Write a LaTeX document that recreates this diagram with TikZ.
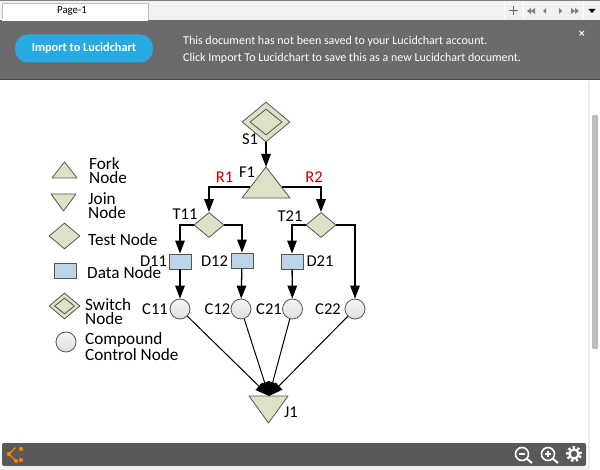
\documentclass[tikz,border=0pt]{standalone}
\usepackage{fontspec}
\setmainfont{Carlito}
\usepackage{tikz}
\usetikzlibrary{shapes.geometric, arrows.meta, positioning, calc}
\definecolor{nodegreen}{HTML}{DDE1C8}
\definecolor{nodeline}{HTML}{55584A}
\definecolor{databox}{HTML}{BDD3E8}
\definecolor{bannergray}{HTML}{6B6B6B}
\definecolor{barblack}{HTML}{595959}
\definecolor{tabgray}{HTML}{F1F1F1}
\definecolor{btnblue}{HTML}{27AAE1}
\definecolor{redlabel}{HTML}{C00000}
\definecolor{thumbgray}{HTML}{BDBDBD}
\tikzset{
    lbl/.style={inner sep=0pt, font=\fontsize{16.5}{14}\selectfont},
    leg/.style={inner sep=0pt, font=\fontsize{17.2}{14}\selectfont, align=left, anchor=west},
    testnode/.style={diamond, draw=nodeline, fill=nodegreen, line width=0.8pt, inner sep=0pt, aspect=1.2, minimum width=30pt, minimum height=25pt},
    switchout/.style={testnode, minimum width=48pt, minimum height=40pt},
    switchin/.style={testnode, minimum width=32pt, minimum height=26pt},
    forknode/.style={draw=nodeline, fill=nodegreen, line width=0.8pt, line join=round},
    datanode/.style={rectangle, draw=nodeline, fill=databox, line width=0.8pt, inner sep=0pt, minimum width=22pt, minimum height=15pt},
    ctrlnode/.style={circle, draw=nodeline, top color=gray!8, bottom color=gray!25, line width=0.8pt, inner sep=0pt, minimum size=20pt},
    flow/.style={-{Triangle[length=13pt, width=9.5pt]}, line width=1.3pt, black},
    joinflow/.style={-{Triangle[length=14pt, width=10pt]}, line width=1pt, black},
    barlbl/.style={inner sep=0pt, text=white, font=\fontsize{12}{12}\selectfont, anchor=west},
}
\begin{document}
\begin{tikzpicture}[x=1pt, y=-1pt]
    \useasboundingbox (0,0) rectangle (600,470);
    \fill[white] (0,0) rectangle (600,470);
    % top bar
    \fill[tabgray] (0,1) rectangle (600,20);
    \draw[gray, line width=0.8pt] (0,0.5) -- (600,0.5);
    \draw[white, line width=0.8pt] (504,2) -- (504,19) (523,2) -- (523,19) (583,2) -- (583,19);
    \fill[white, draw=gray!50] (2,21) -- (2,3) -- (148,3) -- (148,21) -- cycle;
    \node[inner sep=0pt, font=\fontsize{10.8}{12}\selectfont] (pagetab) at (72,11) {Page-1};
    \draw[gray!80!black, line width=1pt] (508.5,11) -- (517.5,11) (513,6.5) -- (513,15.5);
    \fill[gray] (531,8) -- (527,11) -- (531,14) -- cycle (535,8) -- (531,11) -- (535,14) -- cycle;
    \fill[gray] (546,8) -- (543,11) -- (546,14) -- cycle;
    \fill[gray] (559,8) -- (562,11) -- (559,14) -- cycle;
    \fill[gray] (571,8) -- (575,11) -- (571,14) -- cycle (575,8) -- (579,11) -- (575,14) -- cycle;
    \fill[black] (588.5,9) -- (595.5,9) -- (592,13) -- cycle;
    % banner
    \fill[bannergray] (0,20) rectangle (600,79);
    \fill[white] (2,19) rectangle (148,21.5);
    \draw[black!70, line width=1pt] (0,79.5) -- (600,79.5);
    \node[rectangle, rounded corners=13pt, fill=btnblue, minimum width=138pt, minimum height=28pt, inner sep=0pt, text=white, font=\bfseries\fontsize{12.3}{12}\selectfont] (importbtn) at (84,48.5) {Import to Lucidchart};
    \node[barlbl] (msgone) at (183,41) {This document has not been saved to your Lucidchart account.};
    \node[barlbl] (msgtwo) at (183,58) {Click Import To Lucidchart to save this as a new Lucidchart document.};
    \draw[white, line width=1pt] (579.5,31) -- (584,35.5) (584,31) -- (579.5,35.5);
    % scrollbar and footer
    \fill[gray!15] (588,81) rectangle (590,470);
    \fill[thumbgray, rounded corners=1pt] (592,115) rectangle (598,349);
    \fill[gray!12] (0,467) rectangle (588,470);
    \fill[barblack, rounded corners=2pt] (2,443) rectangle (586,466);
    \draw[orange, line width=1.4pt] (15,448) -- (9,454) -- (16,461);
    \fill[orange] (9,454) circle (2.2pt) (21,449) circle (2.2pt) (21,460) circle (2.2pt) (16,461) circle (2pt) (15,448) circle (1pt);
    \foreach \cx in {522,548} {
        \draw[white, line width=1.6pt] (\cx,454) circle (6.5pt);
        \draw[white, line width=2pt] (\cx+4.5,458.5) -- (\cx+10,463);
        \draw[white, line width=1.3pt] (\cx-3,454) -- (\cx+3,454);
    }
    \draw[white, line width=1.3pt] (548,451) -- (548,457);
    \draw[white, line width=3pt, dash pattern=on 2.3pt off 2.3pt] (574,454) circle (6.5pt);
    \draw[white, line width=2.2pt] (574,454) circle (4.5pt);
    % legend
    \filldraw[forknode] (64.5,162) -- (77,178) -- (52,178) -- cycle;
    \filldraw[forknode] (51,194) -- (76,194) -- (63.5,211) -- cycle;
    \node[testnode, minimum width=31pt, minimum height=26pt] (legtest) at (64.5,236) {};
    \node[datanode] (legdata) at (65,270.5) {};
    \node[switchout, minimum width=31pt, minimum height=26pt] (legswitch) at (64.5,306) {};
    \node[switchin, minimum width=20pt, minimum height=16pt] (legswitchin) at (legswitch) {};
    \node[ctrlnode] (legctrl) at (66,342) {};
    \node[leg] (legforktxt) at (89,171) {Fork\\Node};
    \node[leg] (legjointxt) at (88,206) {Join\\Node};
    \node[leg] (legtesttxt) at (88,239.5) {Test Node};
    \node[leg] (legdatatxt) at (87,273) {Data Node};
    \node[leg] (legswitchtxt) at (85,312) {Switch\\Node};
    \node[leg] (legctrltxt) at (85,346.5) {Compound\\Control Node};
    % diagram
    \node[switchout] (S1) at (266,122) {};
    \node[switchin] (S1in) at (266,122) {};
    \filldraw[forknode] (266,167) coordinate (F1top) -- (290,198) -- (242,198) -- cycle;
    \coordinate (F1left) at (250,187);
    \coordinate (F1right) at (282,187);
    \node[testnode] (T11) at (209,225) {};
    \node[testnode] (T21) at (321,225) {};
    \node[datanode] (D11) at (180,261.5) {};
    \node[datanode] (D12) at (242,260.5) {};
    \node[datanode] (D21) at (292,261.5) {};
    \node[ctrlnode] (C11) at (180,309) {};
    \node[ctrlnode] (C12) at (241,309) {};
    \node[ctrlnode] (C21) at (292.5,309) {};
    \node[ctrlnode] (C22) at (355,309) {};
    \filldraw[forknode] (249,396) -- (288,396) -- (268.5,423) -- cycle;
    \coordinate (J1in) at (269,396);
    \draw[flow] (S1) -- (F1top);
    \draw[flow] (F1left) -| (T11);
    \draw[flow] (F1right) -| (T21);
    \draw[flow] (T11) -| (D11);
    \draw[flow] (T11) -| (D12);
    \draw[flow] (T21) -| (D21);
    \draw[flow] (T21) -| (C22);
    \draw[flow] (D11) -- (C11);
    \draw[flow] (D12) -- (C12);
    \draw[flow] (D21) -- (C21);
    \draw[joinflow] (C11) -- (J1in);
    \draw[joinflow] (C12) -- (J1in);
    \draw[joinflow] (C21) -- (J1in);
    \draw[joinflow] (C22) -- (J1in);
    \node[lbl] (S1txt) at (250,139) {S1};
    \node[lbl] (F1txt) at (247,172) {F1};
    \node[lbl, text=redlabel] (R1txt) at (224.5,177) {R1};
    \node[lbl, text=redlabel] (R2txt) at (314,177) {R2};
    \node[lbl] (T11txt) at (185,214) {T11};
    \node[lbl] (T21txt) at (290,216) {T21};
    \node[lbl] (D11txt) at (153.5,261) {D11};
    \node[lbl] (D12txt) at (214.5,261) {D12};
    \node[lbl] (D21txt) at (320,261) {D21};
    \node[lbl] (C11txt) at (155,309) {C11};
    \node[lbl] (C12txt) at (217.5,309) {C12};
    \node[lbl] (C21txt) at (269,309) {C21};
    \node[lbl] (C22txt) at (328,309) {C22};
    \node[lbl] (J1txt) at (291,412.5) {J1};
\end{tikzpicture}
\end{document}
